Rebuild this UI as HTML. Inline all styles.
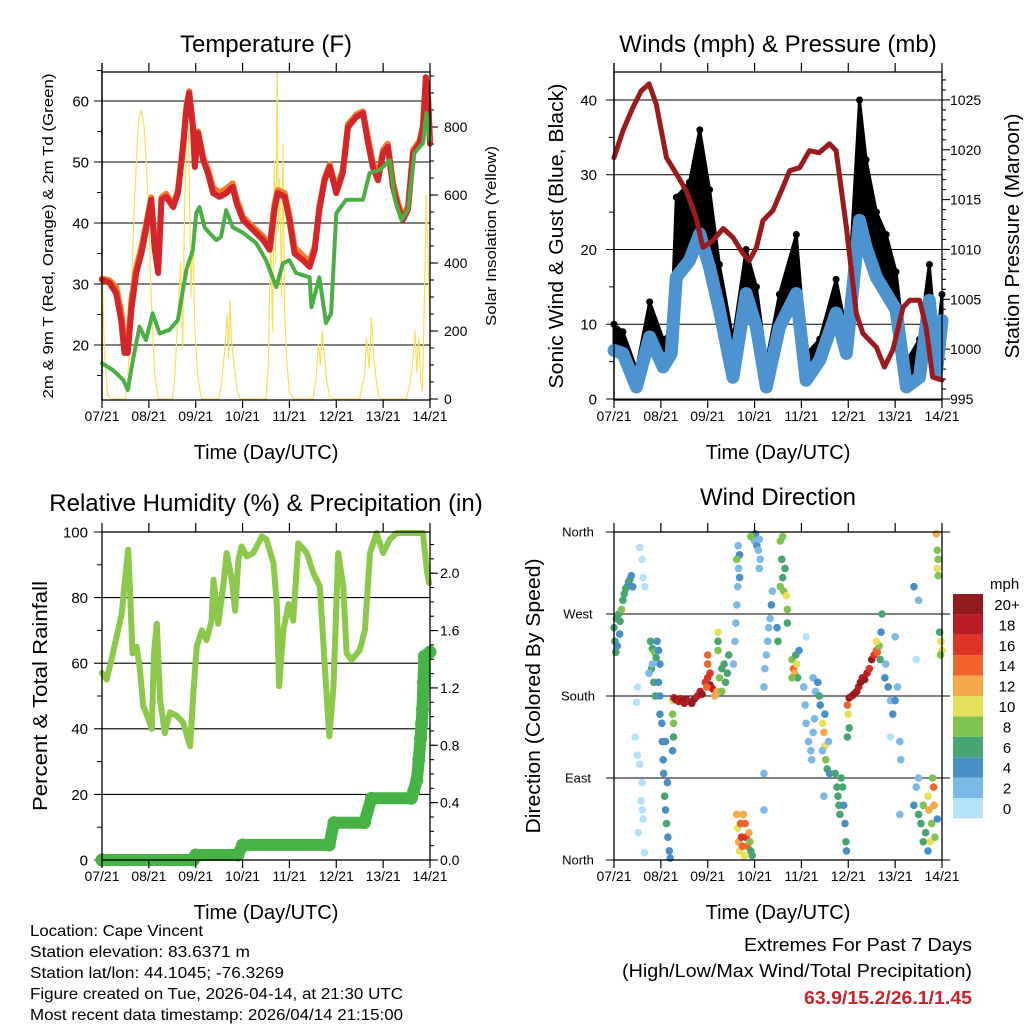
<!DOCTYPE html>
<html><head><meta charset="utf-8">
<style>
html,body{margin:0;padding:0;background:#fff;}
svg{display:block;font-family:"Liberation Sans",sans-serif;}
.narrow{font-family:"Liberation Sans Narrow","Liberation Sans",sans-serif;}
</style></head>
<body>
<svg id="chart" width="1024" height="1024" viewBox="0 0 1024 1024" xmlns="http://www.w3.org/2000/svg">
<g id="g1"></g>
<g id="g2"></g>
<g id="g3"></g>
<g id="g4"></g>
<g id="gtext">
<text x="30" y="936" font-size="16" textLength="173" lengthAdjust="spacingAndGlyphs" class="narrow">Location: Cape Vincent</text>
<text x="30" y="957" font-size="16" textLength="220" lengthAdjust="spacingAndGlyphs" class="narrow">Station elevation: 83.6371 m</text>
<text x="30" y="978" font-size="16" textLength="254" lengthAdjust="spacingAndGlyphs" class="narrow">Station lat/lon: 44.1045; -76.3269</text>
<text x="30" y="999" font-size="16" textLength="373" lengthAdjust="spacingAndGlyphs" class="narrow">Figure created on Tue, 2026-04-14, at 21:30 UTC</text>
<text x="30" y="1020" font-size="16" textLength="373" lengthAdjust="spacingAndGlyphs" class="narrow">Most recent data timestamp: 2026/04/14 21:15:00</text>
<text x="972" y="951" font-size="18" text-anchor="end" textLength="228" lengthAdjust="spacingAndGlyphs" class="narrow">Extremes For Past 7 Days</text>
<text x="972" y="977" font-size="18" text-anchor="end" textLength="350" lengthAdjust="spacingAndGlyphs" class="narrow">(High/Low/Max Wind/Total Precipitation)</text>
<text x="972" y="1004" font-size="18" font-weight="bold" fill="#c8232b" text-anchor="end" textLength="168" lengthAdjust="spacingAndGlyphs" class="narrow">63.9/15.2/26.1/1.45</text>
</g>
</svg>
<script>
// ---------- DATA ----------
const dayLabels = ["07/21","08/21","09/21","10/21","11/21","12/21","13/21","14/21"];
const tempTicks = [20,30,40,50,60];
const solarTicks = [0,200,400,600,800];
const windTicks = [0,10,20,30,40];
const pressTicks = [995,1000,1005,1010,1015,1020,1025];
const rhTicks = [0,20,40,60,80,100];
const precipTicks = ["0.0","0.4","0.8","1.2","1.6","2.0"];
const dirTickNames = ["North","East","South","West","North"];
const speedBins = ["0","2","4","6","8","10","12","14","16","18","20+"];

const tempTimes = [0,0.16,0.3,0.41,0.48,0.55,0.63,0.73,0.84,0.95,1.05,1.12,1.2,1.27,1.37,1.52,1.62,1.73,1.8,1.86,1.94,1.98,2.05,2.16,2.26,2.37,2.51,2.65,2.79,2.87,3.01,3.22,3.44,3.58,3.68,3.75,3.9,4.0,4.11,4.29,4.43,4.54,4.64,4.75,4.86,5.0,5.14,5.25,5.43,5.57,5.68,5.78,5.89,6.0,6.1,6.21,6.32,6.42,6.53,6.64,6.78,6.85,6.91,6.96,7.0];
const tempRed = [30.7,30.2,28.5,24,18.7,18.7,26,31.8,35,39.4,43.8,36,31.8,43.8,44.3,42.6,44.9,52.5,58.5,61.3,55.7,49.2,54.7,50.3,48.2,44.9,44.3,44.9,45.9,43.3,40.5,38.9,37.2,35.6,42.2,44.9,44.3,40.5,35,33.9,32.8,35.6,42.2,47,49.2,44.9,48.2,55.7,57.4,58,53.1,49.2,47,51.5,52.5,45.9,42.6,40.5,42.2,51.5,53.1,55.7,63.9,60.2,53];
const tempOrange = [30.9,30.6,29.5,25.5,20.5,20,27.5,32.6,36,40.2,44.2,37.5,33,44.2,44.8,43,45.3,53,59,61.6,56.2,50,55,50.8,48.8,45.8,45,45.6,46.5,44,41,39.4,37.8,36.4,43,45.4,44.9,41.2,36,34.6,33.6,36.2,42.8,47.4,49.6,45.5,48.7,56.2,57.8,58.3,53.8,50,47.6,52,53,46.6,43.2,41,42.7,52,53.5,56,63.5,60.5,53.5];
const dewTimes = [0,0.23,0.45,0.55,0.66,0.8,0.94,1.08,1.23,1.44,1.62,1.8,1.94,2.01,2.08,2.19,2.29,2.44,2.54,2.65,2.79,3.01,3.29,3.5,3.72,3.86,4.0,4.14,4.43,4.47,4.64,4.78,4.89,5.0,5.21,5.57,5.71,5.93,6.14,6.25,6.39,6.53,6.67,6.85,6.92,7.0];
const dewGreen = [17,15.9,14.3,12.6,17.5,23,20.8,25.2,21.9,22.5,24.1,32.3,35.6,41.6,42.6,39.3,38.4,37.2,37.7,42.1,39.3,38.4,36.7,33.9,29.5,33.4,33.9,31.8,31.1,26.2,31.1,23.6,25.2,41.6,43.8,43.8,48.2,48.7,50.3,43.8,40.5,42.2,51.5,53.1,58,53.6];
const solarTimes = [0,0.05,0.12,0.2,0.5,0.55,0.62,0.7,0.78,0.84,0.9,0.98,1.05,1.12,1.2,1.5,1.55,1.62,1.68,1.72,1.76,1.8,1.83,1.86,1.9,1.94,1.98,2.05,2.12,2.5,2.56,2.62,2.67,2.7,2.73,2.76,2.82,2.88,2.95,3.5,3.55,3.6,3.64,3.68,3.71,3.74,3.76,3.79,3.83,3.86,3.9,3.95,4.0,4.1,4.5,4.56,4.62,4.66,4.7,4.75,4.8,4.86,4.95,5.5,5.55,5.6,5.65,5.7,5.75,5.8,5.85,5.9,5.97,6.5,6.56,6.62,6.68,6.72,6.76,6.8,6.84,6.88,6.92,6.96,7.0];
const solarVals = [400,150,10,0,0,50,300,600,820,850,800,600,300,80,0,0,50,250,400,150,550,750,910,650,300,500,200,60,0,0,60,150,250,120,290,180,100,30,0,0,100,500,200,700,400,960,500,650,300,750,250,100,20,0,0,50,160,100,200,120,50,10,0,0,40,60,180,90,240,120,60,10,0,0,40,90,200,80,180,60,20,300,600,400,200];

const windTimes = [0,0.19,0.48,0.76,1.05,1.22,1.33,1.61,1.83,2.04,2.25,2.54,2.82,3.04,3.25,3.53,3.89,4.1,4.39,4.74,4.96,5.24,5.38,5.6,5.81,6.02,6.24,6.52,6.73,6.88,7.0];
const windSpeed = [6.5,6.1,1.6,8.3,4.3,6.1,16.3,18.5,22.1,17.6,11.9,2.9,14.1,9.6,1.6,9.6,14.1,2.5,5.2,11.5,6.1,23.9,20.3,16.3,14.1,11.9,1.6,2.9,13.2,3.5,10.5];
const windGust = [10,9,4,13,8,9,27,29,36,28,18,8,20,15,5,14,22,6,8,16,9,40,32,25,22,17,5,8,18,7,14];
const pressTimes = [0,0.19,0.4,0.58,0.75,0.9,1.12,1.33,1.54,1.75,1.9,2.11,2.33,2.54,2.75,2.89,3.04,3.18,3.39,3.6,3.75,3.96,4.17,4.38,4.6,4.74,4.96,5.17,5.31,5.6,5.77,5.95,6.17,6.31,6.52,6.66,6.8,7.0];
const pressVals = [1019.2,1021.9,1024.2,1025.9,1026.6,1024.6,1019.2,1017.6,1015.9,1013.2,1010.2,1010.9,1012.1,1011.2,1009.6,1008.9,1010.2,1012.9,1013.9,1016.2,1017.9,1018.2,1019.9,1019.7,1020.6,1019.9,1012.2,1003.6,1001.6,1000.2,998.2,999.9,1004.2,1004.9,1004.9,1002.2,997.2,996.9];

const rhTimes = [0,0.1,0.2,0.31,0.42,0.49,0.56,0.61,0.65,0.74,0.81,0.88,0.99,1.06,1.11,1.17,1.24,1.34,1.45,1.59,1.73,1.88,1.95,2.02,2.13,2.23,2.34,2.38,2.48,2.59,2.66,2.77,2.84,2.91,2.98,3.09,3.23,3.41,3.51,3.66,3.73,3.78,3.87,3.98,4.08,4.19,4.37,4.51,4.65,4.76,4.85,4.94,5.04,5.15,5.22,5.33,5.5,5.61,5.72,5.86,6.0,6.14,6.29,6.85,6.93,6.98];
const rhVals = [57,55,61,68,75,85.5,94.6,78,63,65,58,47,43,40,63,72,49,38.7,45,44,42,34.7,51,65,70,67,73,85.5,72,84,93.6,85.5,76,91.6,95.6,92.6,93.6,98.7,97.7,90.5,78,53,70,78,73,96.6,93.6,87.5,83.4,58,37.7,53,93.6,83.4,63,61,64,70,93.6,99.7,93.6,97.7,99.7,99.7,88.5,84.5];
const precipTimes = [0,1.95,2.0,2.9,3.0,4.85,4.95,5.6,5.75,6.6,6.65,6.72,6.76,6.8,6.82,6.84,6.86,6.88,7.0];
const precipVals = [0,0,0.035,0.035,0.105,0.105,0.26,0.26,0.43,0.43,0.48,0.56,0.7,0.85,0.95,1.05,1.24,1.42,1.45];

const dirTimes = [0,0.02,0.05,0.07,0.1,0.13,0.16,0.19,0.22,0.25,0.28,0.31,0.34,0.37,0.4,0.04,0.12,
0.55,0.6,0.62,0.66,0.5,0.45,0.5,0.55,0.6,0.58,0.6,0.62,0.65,0.52,0.48,
0.78,0.82,0.86,0.9,0.8,0.85,0.88,0.92,0.95,0.98,0.95,0.98,0.98,0.82,0.75,
1.02,1.03,1.05,1.06,1.08,1.1,1.12,1.15,1.18,1.2,1.14,1.1,
1.25,1.28,1.32,1.38,1.42,1.46,1.5,1.55,1.6,1.66,1.72,1.78,1.84,1.88,1.25,1.27,1.27,1.25,
1.95,2.0,2.05,2.1,2.0,2.0,2.05,2.15,2.2,1.98,
2.25,2.3,2.35,2.38,2.42,2.45,2.3,2.22,2.22,2.22,
2.55,2.58,2.6,2.62,2.64,2.66,2.68,2.65,2.68,2.62,
2.62,2.64,2.66,2.68,2.7,2.72,2.74,2.76,2.8,2.82,2.85,2.78,2.88,2.9,2.92,2.95,
2.98,3.0,3.02,3.05,3.08,3.1,3.12,2.92,3.1,
3.2,3.22,3.25,3.28,3.3,3.33,3.36,3.38,3.2,3.2,
3.55,3.6,3.62,3.65,3.58,3.55,3.6,3.68,3.7,3.7,3.5,3.48,
3.8,3.83,3.86,3.9,3.88,3.95,3.92,3.8,
4.1,4.05,4.08,4.1,4.15,4.2,4.25,4.28,4.25,4.3,4.22,
4.35,4.38,4.4,4.45,4.48,4.5,4.52,4.55,4.5,4.45,4.48,4.6,4.58,
4.72,4.76,4.78,4.8,4.82,4.85,4.88,4.9,4.95,4.96,4.93,
4.98,5.02,5.08,5.12,5.18,5.22,5.26,5.3,5.35,5.4,5.45,5.0,5.02,4.98,
5.5,5.55,5.6,5.62,5.66,5.68,5.6,5.7,5.72,
5.78,5.8,5.85,5.9,5.95,6.0,6.05,6.1,6.12,6.0,5.9,6.1,
6.4,6.45,6.5,6.55,6.6,6.65,6.7,6.72,6.75,6.78,6.8,6.82,6.83,6.85,6.7,6.6,6.5,6.9,
6.88,6.9,6.92,6.9,6.92,6.95,6.98,7.0,6.97,6.4,6.5,6.45];
const dirDeg = [255,240,265,235,270,262,275,285,292,298,300,305,308,312,300,228,248,
343,330,310,300,190,135,115,105,85,65,55,45,8,30,173,
240,232,228,222,210,195,180,240,230,215,195,180,160,215,205,
150,130,110,95,70,55,40,25,10,2,85,130,
175,178,176,174,177,175,172,176,174,172,177,180,185,182,160,150,135,120,
195,200,192,188,215,225,205,180,185,190,
200,210,215,195,205,225,185,240,230,250,
215,240,260,280,300,320,335,345,310,330,
50,35,20,10,40,25,15,50,40,25,15,5,30,20,10,5,
355,350,358,345,340,352,330,355,320,
190,210,225,240,255,265,280,295,95,55,
300,310,295,320,330,350,355,290,275,260,240,255,
220,210,205,215,225,230,200,200,
245,190,170,150,130,120,140,155,200,185,110,
195,180,170,150,140,125,110,100,160,120,70,95,130,
95,80,70,60,50,90,80,60,20,10,40,
170,178,180,182,185,190,195,200,198,205,210,160,145,135,
220,225,230,228,235,220,240,250,270,
200,215,190,175,160,175,190,130,110,245,135,50,
60,80,50,40,60,30,70,55,20,40,90,80,60,25,10,20,90,45,
358,340,330,320,312,250,240,230,225,300,285,220];
const dirSpeed = [7,6,7,5,6,7,8,6,7,6,7,5,6,4,4,6,5,
1,1,1,1,1,1,1,1,1,1,1,1,1,1,1,
7,6,8,6,7,7,7,4,4,4,4,4,4,2,2,
4,4,5,4,6,5,6,4,4,4,4,4,
11,18,20,19,18,20,19,20,18,20,20,19,18,20,9,8,6,5,
17,16,20,18,14,14,16,13,12,15,
8,7,6,6,6,6,8,7,8,11,
3,2,2,2,3,3,4,3,4,8,
12,10,13,10,15,16,14,12,15,16,14,10,12,8,6,7,
4,3,4,4,3,3,2,8,2,
2,2,2,2,3,3,4,3,2,2,
8,7,8,6,7,8,8,10,8,7,6,5,
8,14,12,10,7,4,6,9,
1,2,2,2,2,2,2,3,3,3,2,
4,6,5,10,12,10,9,7,4,2,2,4,3,
6,6,6,7,6,7,6,5,6,4,4,
14,20,19,20,20,19,20,18,20,18,16,10,7,6,
20,16,14,15,9,7,11,5,6,
4,3,4,3,4,4,3,3,2,3,1,2,
4,3,6,7,8,6,10,12,10,8,9,14,13,9,5,6,3,4,
12,8,8,10,9,6,10,11,8,4,2,1];

// ---------- RENDER ----------
const NS = "http://www.w3.org/2000/svg";
function mk(parent, tag, attrs, txt){
  const e = document.createElementNS(NS, tag);
  for (const k in attrs) e.setAttribute(k, attrs[k]);
  if (txt !== undefined) e.textContent = txt;
  parent.appendChild(e);
  return e;
}
const W = 328, H = 328;
function xs(x0, t){ return x0 + t * W / 7; }
function pts(x0, ts, vs, yf){ return ts.map((t,i)=> xs(x0,t).toFixed(1)+","+yf(vs[i]).toFixed(1)).join(" "); }

function frame(g, x0, y0, name){
  const r = mk(g,"rect",{x:x0,y:y0,width:W,height:H,fill:"none",stroke:"#000","stroke-width":1.3});
  
  
  for (let d=0; d<=7; d++){
    const x = xs(x0,d);
    const t1 = mk(g,"line",{x1:x,x2:x,y1:y0-9,y2:y0,stroke:"#000","stroke-width":1.2});
    
    
    const t2 = mk(g,"line",{x1:x,x2:x,y1:y0+H,y2:y0+H+8,stroke:"#000","stroke-width":1.2});
    
    
    const lb = mk(g,"text",{x:x,y:y0+H+21,"font-size":14,"text-anchor":"middle"},dayLabels[d]);
    
    
  }
  const xt = mk(g,"text",{x:x0+W/2,y:y0+H+59,"font-size":20,"text-anchor":"middle"},"Time (Day/UTC)");
  
  
}
function hgrid(g, x0, y, x1, name){
  const l = mk(g,"line",{x1:x0-8,x2:x1,y1:y,y2:y,stroke:"#000","stroke-width":1.1});
  
  
}
function ylab(g, x, y, txt, size, anchor, name){
  const t = mk(g,"text",{x:x,y:y+size*0.36,"font-size":size,"text-anchor":anchor},txt);
  
  
}
function rotTitle(g, x, y, txt, size, len, name){
  const t = mk(g,"text",{x:0,y:0,"font-size":size,"text-anchor":"middle",transform:"translate("+x+","+y+") rotate(-90)",textLength:len,lengthAdjust:"spacingAndGlyphs"},txt);
  
  
}
function title(g, x, y, txt, name){
  const t = mk(g,"text",{x:x,y:y,"font-size":24,"text-anchor":"middle"},txt);
  
  
}
function rtick(g, x, y, len){
  const l = mk(g,"line",{x1:x,x2:x+len,y1:y,y2:y,stroke:"#000","stroke-width":1.1});
  
  
}
function poly(g, p, color, w, name){
  const l = mk(g,"polyline",{points:p,fill:"none",stroke:color,"stroke-width":w,"stroke-linejoin":"round","stroke-linecap":"round"});
  
  
  return l;
}

// Panel 1: Temperature
(function(){
  const g = document.getElementById("g1"), x0=102, y0=72;
  const ty = v => 345 - (v-20)*6.1;
  const sy = v => 399 - v*0.34;
  title(g, 266, 52, "Temperature (F)", "temperature-title");
  tempTicks.forEach(v=>{ hgrid(g,x0,ty(v),x0+W,"temp-gridline"); ylab(g,89,ty(v),String(v),15,"end","temp-tick-label"); });
  for (let v=15; v<=65; v+=10){ const l=mk(g,"line",{x1:x0-5,x2:x0,y1:ty(v),y2:ty(v),stroke:"#000"});   }
  solarTicks.forEach(v=>{ rtick(g,x0+W,sy(v),8); ylab(g,444,sy(v),String(v),14,"start","solar-tick-label"); });
  for (let v=50; v<=950; v+=50){ if (sy(v)>72) rtick(g,x0+W,sy(v),4); }
  const ax = mk(g,"line",{x1:x0,x2:x0,y1:63,y2:400,stroke:"#000","stroke-width":1.3});  
  poly(g, pts(x0,solarTimes,solarVals,sy), "#f9de5c", 1.2, "solar-line");
  poly(g, pts(x0,tempTimes,tempOrange,ty), "#f07b2c", 6, "temp-9m-line");
  poly(g, pts(x0,tempTimes,tempRed,ty), "#d3262b", 6, "temp-2m-line");
  poly(g, pts(x0,dewTimes,dewGreen,ty), "#4aae44", 4, "dewpoint-line");
  frame(g, x0, y0, "temp");
  rotTitle(g, 53, 236, "2m & 9m T (Red, Orange) & 2m Td (Green)", 15, 325, "temp-y-title");
  rotTitle(g, 496, 236, "Solar Insolation (Yellow)", 15, 180, "solar-y-title");
})();

// Panel 2: Winds & Pressure
(function(){
  const g = document.getElementById("g2"), x0=614, y0=72;
  const wy = v => 399 - v*7.475;
  const py = v => 399 - (v-995)*9.97;
  title(g, 778, 52, "Winds (mph) & Pressure (mb)", "winds-title");
  windTicks.forEach(v=>{ hgrid(g,x0,wy(v),x0+W,"wind-gridline"); ylab(g,597,wy(v),String(v),15,"end","wind-tick-label"); });
  for (let v=5; v<=40; v+=10){ const l=mk(g,"line",{x1:x0-5,x2:x0,y1:wy(v),y2:wy(v),stroke:"#000"});   }
  pressTicks.forEach(v=>{ rtick(g,x0+W,py(v),8); ylab(g,950,py(v),String(v),14,"start","pressure-tick-label"); });
  for (let v=996; v<=1027; v++){ if (v%5) rtick(g,x0+W,py(v),4); }
  const ax = mk(g,"line",{x1:x0,x2:x0,y1:63,y2:400,stroke:"#000","stroke-width":1.3});  
  let top = windTimes.map((t,i)=> xs(x0,t).toFixed(1)+","+wy(windGust[i]).toFixed(1));
  let bot = windTimes.slice().reverse().map((t,j)=>{ const i=windTimes.length-1-j; return xs(x0,t).toFixed(1)+","+wy(windSpeed[i]).toFixed(1); });
  const area = mk(g,"polygon",{points:top.concat(bot).join(" "),fill:"#000",stroke:"#000","stroke-width":3,"stroke-linejoin":"round"});
  
  
  windTimes.forEach((t,i)=>{
    const c = mk(g,"circle",{cx:xs(x0,t),cy:wy(windGust[i]),r:3.5,fill:"#000"});
    
    
  });
  poly(g, pts(x0,windTimes,windSpeed,wy), "#4d93cf", 13, "wind-speed-line");
  poly(g, pts(x0,pressTimes,pressVals,py), "#9a1a1d", 5, "pressure-line");
  frame(g, x0, y0, "wind");
  rotTitle(g, 563, 236, "Sonic Wind & Gust (Blue, Black)", 20, 305, "wind-y-title");
  rotTitle(g, 1019, 236, "Station Pressure (Maroon)", 20, 245, "pressure-y-title");
})();

// Panel 3: RH & Precip
(function(){
  const g = document.getElementById("g3"), x0=102, y0=532;
  const ry = v => 860 - v*3.28;
  const py = v => 860 - v*143.4;
  title(g, 266, 511, "Relative Humidity (%) & Precipitation (in)", "humidity-title");
  rhTicks.forEach(v=>{ hgrid(g,x0,ry(v),x0+W,"rh-gridline"); ylab(g,88,ry(v),String(v),15,"end","rh-tick-label"); });
  for (let v=10; v<=90; v+=20){ const l=mk(g,"line",{x1:x0-5,x2:x0,y1:ry(v),y2:ry(v),stroke:"#000"});   }
  precipTicks.forEach(s=>{ const v=parseFloat(s); rtick(g,x0+W,py(v),8); ylab(g,440,py(v),s,14,"start","precip-tick-label"); });
  for (let v=0.1; v<2.25; v+=0.1){ rtick(g,x0+W,py(v),4); }
  poly(g, pts(x0,rhTimes,rhVals,ry), "#8cc84b", 6, "rh-line");
  poly(g, pts(x0,precipTimes,precipVals,py), "#47b347", 12, "precip-line");
  precipTimes.forEach((t,i)=>{
    const c = mk(g,"circle",{cx:xs(x0,t),cy:py(precipVals[i]),r:6.5,fill:"#47b347"});
    
    
  });
  frame(g, x0, y0, "rh");
  rotTitle(g, 47, 696, "Percent & Total Rainfall", 20, 230, "rh-y-title");
})();

// Panel 4: Wind direction
(function(){
  const g = document.getElementById("g4"), x0=614, y0=532;
  const dy = d => 860 - d/360*328;
  const colors = ["#b4e2f8","#7db9e5","#4a8ec6","#48a571","#7fc24f","#e6e05b","#f6a94a","#f0652b","#df3527","#bb1d24","#931b1e"];
  title(g, 778, 505, "Wind Direction", "wind-direction-title");
  dirTickNames.forEach((n,i)=>{ hgrid(g,x0,dy(i*90),x0+W+8,"direction-gridline"); ylab(g,578,dy(i*90),n,13,"middle","direction-tick-label"); });
  dirTimes.forEach((t,i)=>{
    const b = Math.min(10, Math.floor(dirSpeed[i]/2));
    const c = mk(g,"circle",{cx:xs(x0,t),cy:dy(dirDeg[i]),r:3.8,fill:colors[b]});
    
    
  });
  frame(g, x0, y0, "direction");
  rotTitle(g, 540, 696, "Direction (Colored By Speed)", 20, 275, "direction-y-title");
  const lt = mk(g,"text",{x:990,y:589,"font-size":15},"mph");
  
  
  for (let i=0;i<11;i++){
    const y = 798 - i*20.4;
    const r = mk(g,"rect",{x:953,y:y,width:30,height:20.4,fill:colors[i]});
    
    
    const tx = mk(g,"text",{x:1007,y:y+16,"font-size":15,"text-anchor":"middle"},speedBins[i]);
    
    
  }
})();
</script>
</body></html>
